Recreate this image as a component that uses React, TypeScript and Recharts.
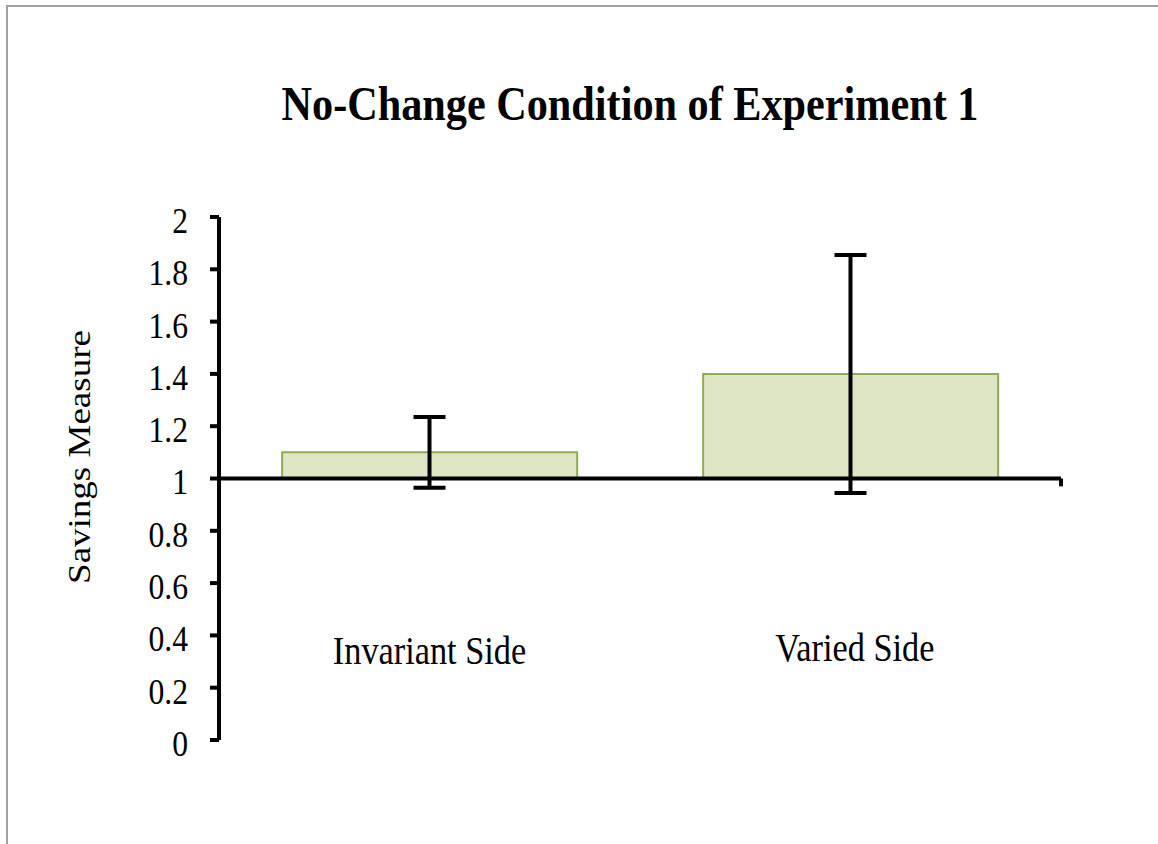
import React from 'react';
import { ComposedChart, Bar, Line, XAxis, YAxis, ReferenceLine, ErrorBar } from 'recharts';

const categories = ['Invariant Side', 'Varied Side'];
const means = [1.1, 1.4];
const errors = [0.135, 0.455];
const yTicks = [0, 0.2, 0.4, 0.6, 0.8, 1, 1.2, 1.4, 1.6, 1.8, 2];
const baseline = 1;
const categoryBoundaries = [1, 2];
const tickDrop = 0.03;

const data = categories.map((c, i) => ({
  name: c,
  range: [baseline, means[i]],
  mean: means[i],
  err: errors[i],
}));

const FONT = '"Liberation Serif", "Times New Roman", serif';
const SQ = 0.88;

const YTick = (props: any) => {
  const { x, y, payload } = props;
  const label = String(Number(Number(payload.value).toFixed(1)));
  return (
    <text
      x={x}
      y={y + 16}
      textAnchor="end"
      fontSize={36}
      fontFamily={FONT}
      fill="#000"
      transform={`translate(${x} ${y}) scale(${SQ} 1) translate(${-x} ${-y})`}
    >
      {label}
    </text>
  );
};

const XTick = (props: any) => {
  const { x, y, payload, index } = props;
  const lift = index === 1 ? 3 : 0;
  return (
    <text
      x={x + (index === 1 ? 5 : 0)}
      y={y - 76 - lift}
      textAnchor="middle"
      fontSize={39}
      fontFamily={FONT}
      fill="#000"
      transform={`translate(${x} ${y}) scale(${SQ} 1) translate(${-x} ${-y})`}
    >
      {payload.value}
    </text>
  );
};

export default function App() {
  return (
    <div
      style={{
        position: 'absolute',
        left: 0,
        top: 0,
        width: 1158,
        height: 844,
        overflow: 'hidden',
        background: '#fff',
        fontFamily: FONT,
      }}
    >
      <div
        style={{
          position: 'absolute',
          left: 6,
          top: 5,
          width: 2000,
          height: 2000,
          borderTop: '2px solid #a0a0a0',
          borderLeft: '2px solid #a0a0a0',
        }}
      />
      <div
        style={{
          position: 'absolute',
          left: 630,
          top: 80,
          fontSize: 48,
          lineHeight: '48px',
          fontWeight: 'bold',
          whiteSpace: 'nowrap',
          transform: `translateX(-50%) scaleX(${SQ})`,
          color: '#000',
        }}
      >
        No-Change Condition of Experiment 1
      </div>
      <div
        style={{
          position: 'absolute',
          left: 79,
          top: 457,
          fontSize: 37,
          lineHeight: '37px',
          whiteSpace: 'nowrap',
          transform: `translate(-50%, -50%) rotate(-90deg) scale(1, ${SQ})`,
          color: '#000',
        }}
      >
        Savings Measure
      </div>
      <div style={{ position: 'absolute', left: 0, top: 0 }}>
        <ComposedChart
          width={1158}
          height={844}
          data={data}
          margin={{ top: 217, right: 97, bottom: 74, left: 139 }}
          barCategoryGap="15%"
        >
          <XAxis
            dataKey="name"
            height={30}
            axisLine={false}
            tickLine={false}
            tickSize={0}
            tickMargin={0}
            tick={<XTick />}
            interval={0}
          />
          <XAxis xAxisId="n" type="number" domain={[0, 2]} hide />
          <YAxis
            width={80}
            domain={[0, 2]}
            ticks={yTicks}
            interval={0}
            axisLine={{ stroke: '#000', strokeWidth: 4 }}
            tickLine={{ stroke: '#000', strokeWidth: 4 }}
            tickSize={9}
            tickMargin={22}
            tick={<YTick />}
          />
          <Bar
            dataKey="range"
            fill="#dfe6c6"
            stroke="#8eab55"
            strokeWidth={2}
            isAnimationActive={false}
          />
          <ReferenceLine y={baseline} stroke="#000" strokeWidth={4} />
          {categoryBoundaries.map((b) => (
            <ReferenceLine
              key={b}
              xAxisId="n"
              segment={[
                { x: b, y: baseline },
                { x: b, y: baseline - tickDrop },
              ]}
              stroke="#000"
              strokeWidth={4}
            />
          ))}
          <Line
            dataKey="mean"
            stroke="none"
            dot={false}
            activeDot={false}
            isAnimationActive={false}
          >
            <ErrorBar dataKey="err" width={16} stroke="#000" strokeWidth={4} />
          </Line>
        </ComposedChart>
      </div>
    </div>
  );
}
